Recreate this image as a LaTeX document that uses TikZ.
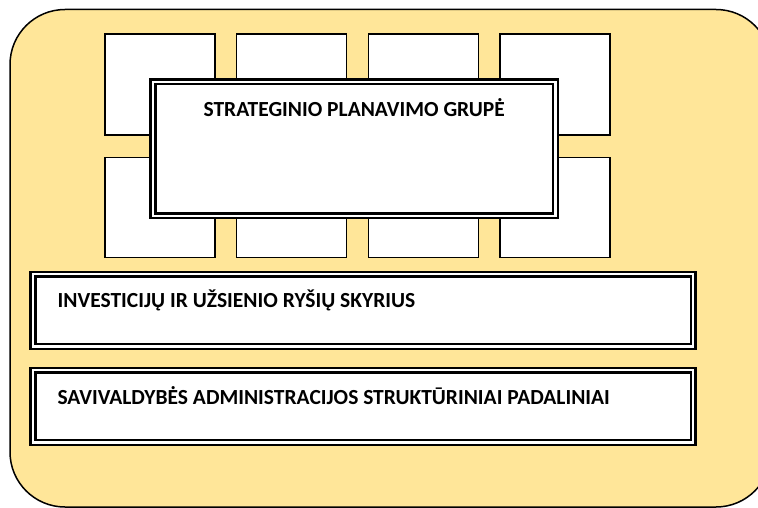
\documentclass[tikz,border=0pt]{standalone}
\usepackage{fontspec}
\setmainfont{Carlito}
\definecolor{bgyellow}{HTML}{FFE699}
\begin{document}
\begin{tikzpicture}[x=1pt,y=-1pt,
  smallbox/.style={draw=black, line width=1.2pt, fill=white, inner sep=0pt},
  dblbox/.style={draw=black, double=white, line width=2.4pt, double distance=2.4pt, fill=white, inner sep=0pt},
  lbl/.style={font=\fontsize{21.5}{25}\selectfont\bfseries, inner sep=0pt}]
\useasboundingbox (0,0) rectangle (758,508);
\clip (0,0) rectangle (758,508);
\draw[fill=bgyellow, line width=1.5pt, rounded corners=55pt] (10,9.5) rectangle (771,507);
% small boxes, top and bottom rows
\foreach \i/\x in {1/160,2/291.7,3/423.3,4/555}{
  \node[smallbox, minimum width=110pt, minimum height=101pt] (t\i) at (\x,84.5) {};
  \node[smallbox, minimum width=110pt, minimum height=100pt] (b\i) at (\x,207.3) {};
}
% central box
\node[dblbox, minimum width=402.6pt, minimum height=134pt] (spg) at (354.2,148.8) {};
\node[lbl, anchor=base] (spgtxt) at (354.2,116.7) {STRATEGINIO PLANAVIMO GRUPĖ};
% lower boxes
\node[dblbox, minimum width=660.3pt, minimum height=72.3pt] (irs) at (363.05,310.35) {};
\node[lbl, anchor=base west] (irstxt) at (57.5,307.7) {INVESTICIJŲ IR UŽSIENIO RYŠIŲ SKYRIUS};
\node[dblbox, minimum width=660.3pt, minimum height=72.3pt] (sap) at (363.05,406.35) {};
\node[lbl, anchor=base west] (saptxt) at (57.3,404) {SAVIVALDYBĖS ADMINISTRACIJOS STRUKTŪRINIAI PADALINIAI};
\end{tikzpicture}
\end{document}
